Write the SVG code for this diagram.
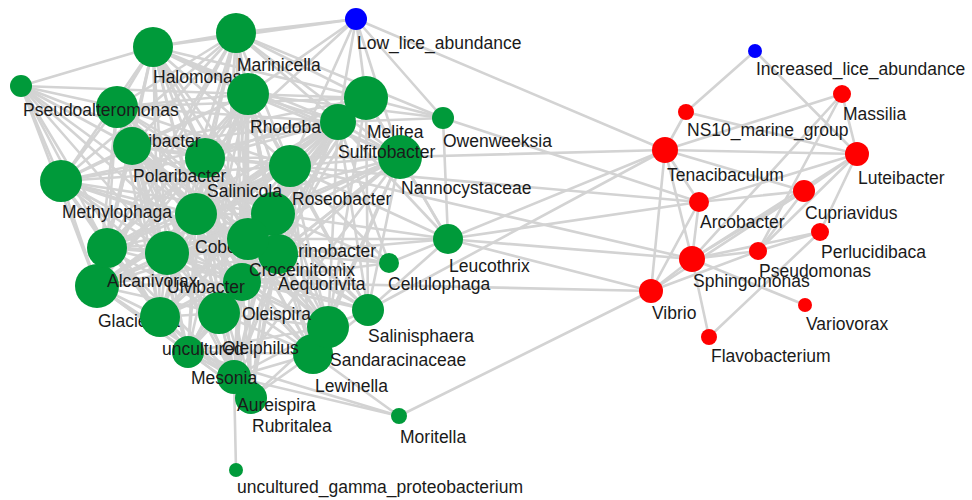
<svg xmlns="http://www.w3.org/2000/svg" width="972" height="500" viewBox="0 0 972 500">
<style>
.g{fill:#009a3a}
.r{fill:#ff0000}
.b{fill:#0000ff}
text{font-family:"Liberation Sans",Arial,Helvetica,sans-serif;font-size:17.5px;fill:#1a1a1a}
</style>
<rect width="972" height="500" fill="#ffffff"/>
<g id="edges" stroke="#d3d3d3" stroke-width="2.6" stroke-linecap="round" fill="none">
<!-- HA -->
<line x1="153" y1="47" x2="236" y2="33"/><line x1="153" y1="47" x2="117" y2="107"/><line x1="153" y1="47" x2="248" y2="94"/><line x1="153" y1="47" x2="132" y2="146"/><line x1="153" y1="47" x2="205" y2="158"/><line x1="153" y1="47" x2="290" y2="166"/><line x1="153" y1="47" x2="366" y2="98"/><line x1="153" y1="47" x2="338" y2="122"/><line x1="153" y1="47" x2="61" y2="181"/><line x1="153" y1="47" x2="196" y2="214"/><line x1="153" y1="47" x2="273" y2="214"/><line x1="153" y1="47" x2="248" y2="239"/><line x1="153" y1="47" x2="278" y2="254"/><line x1="153" y1="47" x2="107" y2="248"/><line x1="153" y1="47" x2="167" y2="253"/><line x1="153" y1="47" x2="97" y2="286"/><line x1="153" y1="47" x2="242" y2="282"/><line x1="153" y1="47" x2="219" y2="313"/><line x1="153" y1="47" x2="160" y2="317"/><line x1="153" y1="47" x2="400" y2="157"/>
<!-- MC -->
<line x1="236" y1="33" x2="117" y2="107"/><line x1="236" y1="33" x2="248" y2="94"/><line x1="236" y1="33" x2="132" y2="146"/><line x1="236" y1="33" x2="205" y2="158"/><line x1="236" y1="33" x2="290" y2="166"/><line x1="236" y1="33" x2="366" y2="98"/><line x1="236" y1="33" x2="338" y2="122"/><line x1="236" y1="33" x2="400" y2="157"/><line x1="236" y1="33" x2="61" y2="181"/><line x1="236" y1="33" x2="196" y2="214"/><line x1="236" y1="33" x2="273" y2="214"/><line x1="236" y1="33" x2="248" y2="239"/><line x1="236" y1="33" x2="278" y2="254"/><line x1="236" y1="33" x2="107" y2="248"/><line x1="236" y1="33" x2="167" y2="253"/><line x1="236" y1="33" x2="242" y2="282"/><line x1="236" y1="33" x2="219" y2="313"/><line x1="236" y1="33" x2="97" y2="286"/>
<!-- MB -->
<line x1="117" y1="107" x2="248" y2="94"/><line x1="117" y1="107" x2="132" y2="146"/><line x1="117" y1="107" x2="205" y2="158"/><line x1="117" y1="107" x2="290" y2="166"/><line x1="117" y1="107" x2="366" y2="98"/><line x1="117" y1="107" x2="338" y2="122"/><line x1="117" y1="107" x2="61" y2="181"/><line x1="117" y1="107" x2="196" y2="214"/><line x1="117" y1="107" x2="273" y2="214"/><line x1="117" y1="107" x2="248" y2="239"/><line x1="117" y1="107" x2="278" y2="254"/><line x1="117" y1="107" x2="107" y2="248"/><line x1="117" y1="107" x2="167" y2="253"/><line x1="117" y1="107" x2="97" y2="286"/><line x1="117" y1="107" x2="242" y2="282"/><line x1="117" y1="107" x2="219" y2="313"/><line x1="117" y1="107" x2="160" y2="317"/><line x1="117" y1="107" x2="188" y2="352"/>
<!-- RH -->
<line x1="248" y1="94" x2="132" y2="146"/><line x1="248" y1="94" x2="205" y2="158"/><line x1="248" y1="94" x2="290" y2="166"/><line x1="248" y1="94" x2="366" y2="98"/><line x1="248" y1="94" x2="338" y2="122"/><line x1="248" y1="94" x2="400" y2="157"/><line x1="248" y1="94" x2="61" y2="181"/><line x1="248" y1="94" x2="196" y2="214"/><line x1="248" y1="94" x2="273" y2="214"/><line x1="248" y1="94" x2="248" y2="239"/><line x1="248" y1="94" x2="278" y2="254"/><line x1="248" y1="94" x2="107" y2="248"/><line x1="248" y1="94" x2="167" y2="253"/><line x1="248" y1="94" x2="97" y2="286"/><line x1="248" y1="94" x2="242" y2="282"/><line x1="248" y1="94" x2="219" y2="313"/><line x1="248" y1="94" x2="160" y2="317"/><line x1="248" y1="94" x2="188" y2="352"/><line x1="248" y1="94" x2="234" y2="377"/><line x1="248" y1="94" x2="328" y2="327"/><line x1="248" y1="94" x2="368" y2="310"/>
<!-- PO -->
<line x1="132" y1="146" x2="205" y2="158"/><line x1="132" y1="146" x2="290" y2="166"/><line x1="132" y1="146" x2="366" y2="98"/><line x1="132" y1="146" x2="338" y2="122"/><line x1="132" y1="146" x2="61" y2="181"/><line x1="132" y1="146" x2="196" y2="214"/><line x1="132" y1="146" x2="273" y2="214"/><line x1="132" y1="146" x2="248" y2="239"/><line x1="132" y1="146" x2="278" y2="254"/><line x1="132" y1="146" x2="107" y2="248"/><line x1="132" y1="146" x2="167" y2="253"/><line x1="132" y1="146" x2="97" y2="286"/><line x1="132" y1="146" x2="242" y2="282"/><line x1="132" y1="146" x2="219" y2="313"/><line x1="132" y1="146" x2="160" y2="317"/><line x1="132" y1="146" x2="188" y2="352"/><line x1="132" y1="146" x2="234" y2="377"/><line x1="132" y1="146" x2="328" y2="327"/>
<!-- SA -->
<line x1="205" y1="158" x2="290" y2="166"/><line x1="205" y1="158" x2="366" y2="98"/><line x1="205" y1="158" x2="338" y2="122"/><line x1="205" y1="158" x2="400" y2="157"/><line x1="205" y1="158" x2="61" y2="181"/><line x1="205" y1="158" x2="196" y2="214"/><line x1="205" y1="158" x2="273" y2="214"/><line x1="205" y1="158" x2="248" y2="239"/><line x1="205" y1="158" x2="278" y2="254"/><line x1="205" y1="158" x2="107" y2="248"/><line x1="205" y1="158" x2="167" y2="253"/><line x1="205" y1="158" x2="97" y2="286"/><line x1="205" y1="158" x2="242" y2="282"/><line x1="205" y1="158" x2="219" y2="313"/><line x1="205" y1="158" x2="160" y2="317"/><line x1="205" y1="158" x2="188" y2="352"/><line x1="205" y1="158" x2="234" y2="377"/><line x1="205" y1="158" x2="251" y2="398"/><line x1="205" y1="158" x2="328" y2="327"/><line x1="205" y1="158" x2="313" y2="354"/><line x1="205" y1="158" x2="368" y2="310"/>
<!-- RO -->
<line x1="290" y1="166" x2="366" y2="98"/><line x1="290" y1="166" x2="338" y2="122"/><line x1="290" y1="166" x2="400" y2="157"/><line x1="290" y1="166" x2="61" y2="181"/><line x1="290" y1="166" x2="196" y2="214"/><line x1="290" y1="166" x2="273" y2="214"/><line x1="290" y1="166" x2="248" y2="239"/><line x1="290" y1="166" x2="278" y2="254"/><line x1="290" y1="166" x2="107" y2="248"/><line x1="290" y1="166" x2="167" y2="253"/><line x1="290" y1="166" x2="97" y2="286"/><line x1="290" y1="166" x2="242" y2="282"/><line x1="290" y1="166" x2="219" y2="313"/><line x1="290" y1="166" x2="160" y2="317"/><line x1="290" y1="166" x2="188" y2="352"/><line x1="290" y1="166" x2="234" y2="377"/><line x1="290" y1="166" x2="251" y2="398"/><line x1="290" y1="166" x2="328" y2="327"/><line x1="290" y1="166" x2="313" y2="354"/><line x1="290" y1="166" x2="368" y2="310"/>
<!-- ME -->
<line x1="366" y1="98" x2="338" y2="122"/><line x1="366" y1="98" x2="400" y2="157"/><line x1="366" y1="98" x2="196" y2="214"/><line x1="366" y1="98" x2="273" y2="214"/><line x1="366" y1="98" x2="248" y2="239"/><line x1="366" y1="98" x2="278" y2="254"/><line x1="366" y1="98" x2="167" y2="253"/><line x1="366" y1="98" x2="242" y2="282"/><line x1="366" y1="98" x2="219" y2="313"/><line x1="366" y1="98" x2="328" y2="327"/><line x1="366" y1="98" x2="368" y2="310"/>
<!-- SU -->
<line x1="338" y1="122" x2="400" y2="157"/><line x1="338" y1="122" x2="61" y2="181"/><line x1="338" y1="122" x2="196" y2="214"/><line x1="338" y1="122" x2="273" y2="214"/><line x1="338" y1="122" x2="248" y2="239"/><line x1="338" y1="122" x2="278" y2="254"/><line x1="338" y1="122" x2="107" y2="248"/><line x1="338" y1="122" x2="167" y2="253"/><line x1="338" y1="122" x2="97" y2="286"/><line x1="338" y1="122" x2="242" y2="282"/><line x1="338" y1="122" x2="219" y2="313"/><line x1="338" y1="122" x2="160" y2="317"/><line x1="338" y1="122" x2="234" y2="377"/><line x1="338" y1="122" x2="328" y2="327"/><line x1="338" y1="122" x2="368" y2="310"/>
<!-- NA -->
<line x1="400" y1="157" x2="196" y2="214"/><line x1="400" y1="157" x2="273" y2="214"/><line x1="400" y1="157" x2="248" y2="239"/><line x1="400" y1="157" x2="278" y2="254"/><line x1="400" y1="157" x2="167" y2="253"/><line x1="400" y1="157" x2="242" y2="282"/><line x1="400" y1="157" x2="219" y2="313"/><line x1="400" y1="157" x2="328" y2="327"/><line x1="400" y1="157" x2="313" y2="354"/><line x1="400" y1="157" x2="368" y2="310"/><line x1="400" y1="157" x2="234" y2="377"/>
<!-- MT -->
<line x1="61" y1="181" x2="196" y2="214"/><line x1="61" y1="181" x2="273" y2="214"/><line x1="61" y1="181" x2="248" y2="239"/><line x1="61" y1="181" x2="278" y2="254"/><line x1="61" y1="181" x2="107" y2="248"/><line x1="61" y1="181" x2="167" y2="253"/><line x1="61" y1="181" x2="97" y2="286"/><line x1="61" y1="181" x2="242" y2="282"/><line x1="61" y1="181" x2="219" y2="313"/><line x1="61" y1="181" x2="160" y2="317"/><line x1="61" y1="181" x2="188" y2="352"/>
<!-- CO -->
<line x1="196" y1="214" x2="273" y2="214"/><line x1="196" y1="214" x2="248" y2="239"/><line x1="196" y1="214" x2="278" y2="254"/><line x1="196" y1="214" x2="107" y2="248"/><line x1="196" y1="214" x2="167" y2="253"/><line x1="196" y1="214" x2="97" y2="286"/><line x1="196" y1="214" x2="242" y2="282"/><line x1="196" y1="214" x2="219" y2="313"/><line x1="196" y1="214" x2="160" y2="317"/><line x1="196" y1="214" x2="188" y2="352"/><line x1="196" y1="214" x2="234" y2="377"/><line x1="196" y1="214" x2="251" y2="398"/><line x1="196" y1="214" x2="328" y2="327"/><line x1="196" y1="214" x2="313" y2="354"/><line x1="196" y1="214" x2="368" y2="310"/>
<!-- MN -->
<line x1="273" y1="214" x2="248" y2="239"/><line x1="273" y1="214" x2="278" y2="254"/><line x1="273" y1="214" x2="107" y2="248"/><line x1="273" y1="214" x2="167" y2="253"/><line x1="273" y1="214" x2="97" y2="286"/><line x1="273" y1="214" x2="242" y2="282"/><line x1="273" y1="214" x2="219" y2="313"/><line x1="273" y1="214" x2="160" y2="317"/><line x1="273" y1="214" x2="188" y2="352"/><line x1="273" y1="214" x2="234" y2="377"/><line x1="273" y1="214" x2="251" y2="398"/><line x1="273" y1="214" x2="328" y2="327"/><line x1="273" y1="214" x2="313" y2="354"/><line x1="273" y1="214" x2="368" y2="310"/>
<!-- CR -->
<line x1="248" y1="239" x2="278" y2="254"/><line x1="248" y1="239" x2="107" y2="248"/><line x1="248" y1="239" x2="167" y2="253"/><line x1="248" y1="239" x2="97" y2="286"/><line x1="248" y1="239" x2="242" y2="282"/><line x1="248" y1="239" x2="219" y2="313"/><line x1="248" y1="239" x2="160" y2="317"/><line x1="248" y1="239" x2="188" y2="352"/><line x1="248" y1="239" x2="234" y2="377"/><line x1="248" y1="239" x2="251" y2="398"/><line x1="248" y1="239" x2="328" y2="327"/><line x1="248" y1="239" x2="313" y2="354"/><line x1="248" y1="239" x2="368" y2="310"/>
<!-- AE -->
<line x1="278" y1="254" x2="107" y2="248"/><line x1="278" y1="254" x2="167" y2="253"/><line x1="278" y1="254" x2="97" y2="286"/><line x1="278" y1="254" x2="242" y2="282"/><line x1="278" y1="254" x2="219" y2="313"/><line x1="278" y1="254" x2="160" y2="317"/><line x1="278" y1="254" x2="188" y2="352"/><line x1="278" y1="254" x2="234" y2="377"/><line x1="278" y1="254" x2="251" y2="398"/><line x1="278" y1="254" x2="328" y2="327"/><line x1="278" y1="254" x2="313" y2="354"/><line x1="278" y1="254" x2="368" y2="310"/>
<!-- AL -->
<line x1="107" y1="248" x2="167" y2="253"/><line x1="107" y1="248" x2="97" y2="286"/><line x1="107" y1="248" x2="242" y2="282"/><line x1="107" y1="248" x2="219" y2="313"/><line x1="107" y1="248" x2="160" y2="317"/><line x1="107" y1="248" x2="188" y2="352"/><line x1="107" y1="248" x2="234" y2="377"/>
<!-- UL -->
<line x1="167" y1="253" x2="97" y2="286"/><line x1="167" y1="253" x2="242" y2="282"/><line x1="167" y1="253" x2="219" y2="313"/><line x1="167" y1="253" x2="160" y2="317"/><line x1="167" y1="253" x2="188" y2="352"/><line x1="167" y1="253" x2="234" y2="377"/><line x1="167" y1="253" x2="251" y2="398"/><line x1="167" y1="253" x2="328" y2="327"/><line x1="167" y1="253" x2="313" y2="354"/><line x1="167" y1="253" x2="368" y2="310"/>
<!-- GL -->
<line x1="97" y1="286" x2="242" y2="282"/><line x1="97" y1="286" x2="219" y2="313"/><line x1="97" y1="286" x2="160" y2="317"/><line x1="97" y1="286" x2="188" y2="352"/><line x1="97" y1="286" x2="234" y2="377"/><line x1="97" y1="286" x2="251" y2="398"/>
<!-- OS -->
<line x1="242" y1="282" x2="219" y2="313"/><line x1="242" y1="282" x2="160" y2="317"/><line x1="242" y1="282" x2="188" y2="352"/><line x1="242" y1="282" x2="234" y2="377"/><line x1="242" y1="282" x2="251" y2="398"/><line x1="242" y1="282" x2="328" y2="327"/><line x1="242" y1="282" x2="313" y2="354"/><line x1="242" y1="282" x2="368" y2="310"/>
<!-- OP, UN, MS, AU, RU, SD, LW -->
<line x1="219" y1="313" x2="160" y2="317"/><line x1="219" y1="313" x2="188" y2="352"/><line x1="219" y1="313" x2="234" y2="377"/><line x1="219" y1="313" x2="251" y2="398"/><line x1="219" y1="313" x2="328" y2="327"/><line x1="219" y1="313" x2="313" y2="354"/>
<line x1="160" y1="317" x2="188" y2="352"/><line x1="160" y1="317" x2="234" y2="377"/><line x1="160" y1="317" x2="251" y2="398"/>
<line x1="188" y1="352" x2="234" y2="377"/><line x1="188" y1="352" x2="251" y2="398"/><line x1="188" y1="352" x2="328" y2="327"/><line x1="188" y1="352" x2="313" y2="354"/>
<line x1="234" y1="377" x2="251" y2="398"/><line x1="234" y1="377" x2="328" y2="327"/><line x1="234" y1="377" x2="313" y2="354"/>
<line x1="251" y1="398" x2="328" y2="327"/><line x1="251" y1="398" x2="313" y2="354"/>
<line x1="328" y1="327" x2="313" y2="354"/><line x1="328" y1="327" x2="368" y2="310"/><line x1="313" y1="354" x2="368" y2="310"/>
<!-- Pseudoalteromonas -->
<line x1="21" y1="86" x2="153" y2="47"/><line x1="21" y1="86" x2="117" y2="107"/><line x1="21" y1="86" x2="132" y2="146"/><line x1="21" y1="86" x2="61" y2="181"/><line x1="21" y1="86" x2="107" y2="248"/><line x1="21" y1="86" x2="97" y2="286"/><line x1="21" y1="86" x2="205" y2="158"/><line x1="21" y1="86" x2="196" y2="214"/><line x1="21" y1="86" x2="167" y2="253"/><line x1="21" y1="86" x2="248" y2="94"/><line x1="21" y1="86" x2="160" y2="317"/><line x1="21" y1="86" x2="242" y2="282"/>
<!-- Low_lice_abundance -->
<line x1="356" y1="19" x2="236" y2="33"/><line x1="356" y1="19" x2="153" y2="47"/><line x1="356" y1="19" x2="248" y2="94"/><line x1="356" y1="19" x2="290" y2="166"/><line x1="356" y1="19" x2="338" y2="122"/><line x1="356" y1="19" x2="366" y2="98"/><line x1="356" y1="19" x2="205" y2="158"/><line x1="356" y1="19" x2="443" y2="118"/><line x1="356" y1="19" x2="665" y2="150"/><line x1="356" y1="19" x2="400" y2="157"/>
<!-- Owenweeksia -->
<line x1="443" y1="118" x2="366" y2="98"/><line x1="443" y1="118" x2="338" y2="122"/><line x1="443" y1="118" x2="448" y2="239"/><line x1="443" y1="118" x2="248" y2="94"/><line x1="443" y1="118" x2="236" y2="33"/><line x1="443" y1="118" x2="699" y2="202"/>
<!-- Nannocystaceae long -->
<line x1="400" y1="157" x2="448" y2="239"/><line x1="400" y1="157" x2="665" y2="150"/>
<!-- Leucothrix -->
<line x1="448" y1="239" x2="338" y2="122"/><line x1="448" y1="239" x2="366" y2="98"/><line x1="448" y1="239" x2="290" y2="166"/><line x1="448" y1="239" x2="273" y2="214"/><line x1="448" y1="239" x2="389" y2="263"/><line x1="448" y1="239" x2="368" y2="310"/><line x1="448" y1="239" x2="248" y2="239"/><line x1="448" y1="239" x2="278" y2="254"/><line x1="448" y1="239" x2="665" y2="150"/><line x1="448" y1="239" x2="699" y2="202"/><line x1="448" y1="239" x2="692" y2="259"/><line x1="448" y1="239" x2="651" y2="291"/>
<!-- Cellulophaga -->
<line x1="389" y1="263" x2="273" y2="214"/><line x1="389" y1="263" x2="278" y2="254"/><line x1="389" y1="263" x2="248" y2="239"/><line x1="389" y1="263" x2="290" y2="166"/><line x1="389" y1="263" x2="338" y2="122"/><line x1="389" y1="263" x2="242" y2="282"/>
<!-- long to red -->
<line x1="368" y1="310" x2="665" y2="150"/><line x1="290" y1="166" x2="699" y2="202"/><line x1="290" y1="166" x2="692" y2="259"/><line x1="242" y1="282" x2="651" y2="291"/>
<!-- Moritella, gamma -->
<line x1="399" y1="416" x2="234" y2="377"/><line x1="399" y1="416" x2="313" y2="354"/><line x1="399" y1="416" x2="651" y2="291"/><line x1="399" y1="416" x2="188" y2="352"/>
<line x1="236" y1="470" x2="234" y2="377"/>
<!-- red cluster -->
<line x1="755" y1="51" x2="686" y2="112"/><line x1="755" y1="51" x2="857" y2="154"/>
<line x1="686" y1="112" x2="665" y2="150"/><line x1="686" y1="112" x2="857" y2="154"/>
<line x1="665" y1="150" x2="857" y2="154"/><line x1="665" y1="150" x2="842" y2="94"/><line x1="665" y1="150" x2="804" y2="191"/><line x1="665" y1="150" x2="699" y2="202"/><line x1="665" y1="150" x2="692" y2="259"/><line x1="665" y1="150" x2="651" y2="291"/>
<line x1="842" y1="94" x2="857" y2="154"/><line x1="842" y1="94" x2="692" y2="259"/><line x1="842" y1="94" x2="758" y2="251"/>
<line x1="857" y1="154" x2="699" y2="202"/><line x1="857" y1="154" x2="804" y2="191"/><line x1="857" y1="154" x2="692" y2="259"/><line x1="857" y1="154" x2="758" y2="251"/><line x1="857" y1="154" x2="820" y2="232"/>
<line x1="804" y1="191" x2="699" y2="202"/><line x1="804" y1="191" x2="692" y2="259"/><line x1="804" y1="191" x2="758" y2="251"/><line x1="804" y1="191" x2="651" y2="291"/>
<line x1="820" y1="232" x2="692" y2="259"/><line x1="820" y1="232" x2="758" y2="251"/><line x1="820" y1="232" x2="709" y2="337"/>
<line x1="692" y1="259" x2="758" y2="251"/><line x1="692" y1="259" x2="805" y2="305"/><line x1="692" y1="259" x2="709" y2="337"/><line x1="692" y1="259" x2="651" y2="291"/><line x1="692" y1="259" x2="699" y2="202"/>
<line x1="651" y1="291" x2="699" y2="202"/><line x1="651" y1="291" x2="758" y2="251"/>
</g>
<g id="nodes">
<g id="n-uncultured_gamma_proteobacterium"><circle class="g" cx="236" cy="470" r="7"/><text x="237" y="493">uncultured_gamma_proteobacterium</text></g>
<g id="n-moritella"><circle class="g" cx="399" cy="416" r="8"/><text x="400" y="443">Moritella</text></g>
<g id="n-lewinella"><circle class="g" cx="313" cy="354" r="20"/><text x="315" y="392">Lewinella</text></g>
<g id="n-sandaracinaceae"><circle class="g" cx="328" cy="327" r="21"/><text x="330" y="366">Sandaracinaceae</text></g>
<g id="n-salinisphaera"><circle class="g" cx="368" cy="310" r="16"/><text x="368" y="342">Salinisphaera</text></g>
<g id="n-cellulophaga"><circle class="g" cx="389" cy="263" r="10"/><text x="388" y="290">Cellulophaga</text></g>
<g id="n-leucothrix"><circle class="g" cx="448" cy="239" r="15"/><text x="449" y="272">Leucothrix</text></g>
<g id="n-owenweeksia"><circle class="g" cx="443" cy="118" r="11"/><text x="443" y="147">Owenweeksia</text></g>
<g id="n-rubritalea"><circle class="g" cx="251" cy="398" r="16"/><text x="252" y="432">Rubritalea</text></g>
<g id="n-aureispira"><circle class="g" cx="234" cy="377" r="17"/><text x="237" y="411">Aureispira</text></g>
<g id="n-mesonia"><circle class="g" cx="188" cy="352" r="16"/><text x="191" y="384">Mesonia</text></g>
<g id="n-glaciecola"><circle class="g" cx="97" cy="286" r="22"/><text x="98" y="327">Glaciecola</text></g>
<g id="n-uncultured"><circle class="g" cx="160" cy="317" r="20"/><text x="162" y="355">uncultured</text></g>
<g id="n-oleiphilus"><circle class="g" cx="219" cy="313" r="21"/><text x="222" y="354">Oleiphilus</text></g>
<g id="n-oleispira"><circle class="g" cx="242" cy="282" r="19"/><text x="242" y="320">Oleispira</text></g>
<g id="n-alcanivorax"><circle class="g" cx="107" cy="248" r="20"/><text x="107" y="287">Alcanivorax</text></g>
<g id="n-ulvibacter"><circle class="g" cx="167" cy="253" r="22"/><text x="167" y="293">Ulvibacter</text></g>
<g id="n-marinobacter"><circle class="g" cx="273" cy="214" r="22"/><text x="274" y="257">Marinobacter</text></g>
<g id="n-aequorivita"><circle class="g" cx="278" cy="254" r="20"/><text x="278" y="290">Aequorivita</text></g>
<g id="n-cobetia"><circle class="g" cx="196" cy="214" r="21"/><text x="195" y="253">Cobetia</text></g>
<g id="n-croceinitomix"><circle class="g" cx="248" cy="239" r="21"/><text x="249" y="276">Croceinitomix</text></g>
<g id="n-salinicola"><circle class="g" cx="205" cy="158" r="20"/><text x="207" y="197">Salinicola</text></g>
<g id="n-maribacter"><circle class="g" cx="117" cy="107" r="21"/><text x="118" y="147">Maribacter</text></g>
<g id="n-polaribacter"><circle class="g" cx="132" cy="146" r="19"/><text x="133" y="182">Polaribacter</text></g>
<g id="n-pseudoalteromonas"><circle class="g" cx="21" cy="86" r="11"/><text x="23" y="116">Pseudoalteromonas</text></g>
<g id="n-halomonas"><circle class="g" cx="153" cy="47" r="20"/><text x="153" y="83">Halomonas</text></g>
<g id="n-marinicella"><circle class="g" cx="236" cy="33" r="20"/><text x="237" y="71">Marinicella</text></g>
<g id="n-rhodobacter"><circle class="g" cx="248" cy="94" r="21"/><text x="250" y="133">Rhodobacter</text></g>
<g id="n-melitea"><circle class="g" cx="366" cy="98" r="22"/><text x="367" y="138">Melitea</text></g>
<g id="n-nannocystaceae"><circle class="g" cx="400" cy="157" r="22"/><text x="401" y="194">Nannocystaceae</text></g>
<g id="n-sulfitobacter"><circle class="g" cx="338" cy="122" r="18"/><text x="338" y="158">Sulfitobacter</text></g>
<g id="n-roseobacter"><circle class="g" cx="290" cy="166" r="21"/><text x="292" y="205">Roseobacter</text></g>
<g id="n-methylophaga"><circle class="g" cx="61" cy="181" r="21"/><text x="62" y="218">Methylophaga</text></g>
<g id="n-low_lice_abundance"><circle class="b" cx="356" cy="19" r="11"/><text x="357" y="49">Low_lice_abundance</text></g>
<g id="n-increased_lice_abundance"><circle class="b" cx="755" cy="51" r="7"/><text x="756" y="75">Increased_lice_abundance</text></g>
<g id="n-massilia"><circle class="r" cx="842" cy="94" r="9"/><text x="843" y="120">Massilia</text></g>
<g id="n-ns10_marine_group"><circle class="r" cx="686" cy="112" r="8"/><text x="687" y="136">NS10_marine_group</text></g>
<g id="n-tenacibaculum"><circle class="r" cx="665" cy="150" r="13"/><text x="667" y="181">Tenacibaculum</text></g>
<g id="n-luteibacter"><circle class="r" cx="857" cy="154" r="12"/><text x="858" y="184">Luteibacter</text></g>
<g id="n-cupriavidus"><circle class="r" cx="804" cy="191" r="11"/><text x="805" y="219">Cupriavidus</text></g>
<g id="n-arcobacter"><circle class="r" cx="699" cy="202" r="10"/><text x="700" y="228">Arcobacter</text></g>
<g id="n-perlucidibaca"><circle class="r" cx="820" cy="232" r="9"/><text x="821" y="258">Perlucidibaca</text></g>
<g id="n-pseudomonas"><circle class="r" cx="758" cy="251" r="9"/><text x="759" y="277">Pseudomonas</text></g>
<g id="n-sphingomonas"><circle class="r" cx="692" cy="259" r="13"/><text x="693" y="287">Sphingomonas</text></g>
<g id="n-vibrio"><circle class="r" cx="651" cy="291" r="12"/><text x="652" y="319">Vibrio</text></g>
<g id="n-variovorax"><circle class="r" cx="805" cy="305" r="7"/><text x="806" y="330">Variovorax</text></g>
<g id="n-flavobacterium"><circle class="r" cx="709" cy="337" r="8"/><text x="711" y="362">Flavobacterium</text></g>
</g>
</svg>
